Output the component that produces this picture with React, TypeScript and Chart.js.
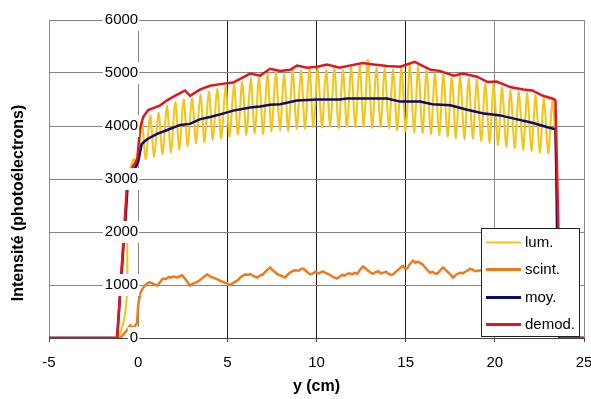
import { useEffect, useRef } from 'react';
import { Chart, registerables } from 'chart.js';

Chart.register(...registerables);

const FONT = "'Liberation Sans', Arial, Helvetica, sans-serif";

const seriesLabels = ['lum.', 'scint.', 'moy.', 'demod.'];
const seriesColors = ['#F3C51A', '#EE7A1E', '#0B0B6E', '#E3161B'];

const xAxisTicks = [-5, 0, 5, 10, 15, 20, 25];
const yAxisTicks = [0, 1000, 2000, 3000, 4000, 5000, 6000];
const xTitle = 'y (cm)';
const yTitle = 'Intensité (photoélectrons)';

const lumX = [-5, -1.12, -0.62, -0.4, -0.22, -0.05, 0.2, 0.43, 0.67, 0.9, 1.14, 1.37, 1.61, 1.84, 2.08, 2.31, 2.55, 2.78, 3.02, 3.25, 3.49, 3.72, 3.96, 4.19, 4.43, 4.66, 4.9, 5.13, 5.37, 5.6, 5.84, 6.07, 6.31, 6.54, 6.78, 7.01, 7.25, 7.48, 7.72, 7.95, 8.19, 8.42, 8.66, 8.89, 9.13, 9.36, 9.6, 9.83, 10.07, 10.3, 10.54, 10.77, 11.01, 11.24, 11.48, 11.71, 11.95, 12.18, 12.42, 12.65, 12.89, 13.12, 13.36, 13.59, 13.83, 14.06, 14.3, 14.53, 14.77, 15.0, 15.24, 15.47, 15.71, 15.94, 16.18, 16.41, 16.65, 16.88, 17.12, 17.35, 17.59, 17.82, 18.06, 18.29, 18.53, 18.76, 19.0, 19.23, 19.47, 19.7, 19.94, 20.17, 20.41, 20.64, 20.88, 21.11, 21.35, 21.58, 21.82, 22.05, 22.29, 22.52, 22.76, 22.99, 23.23, 23.42, 23.66, 25];
const lumY = [0, 0, 2950, 3250, 3380, 3260, 4080, 3380, 4200, 3420, 4250, 3470, 4380, 3500, 4450, 3560, 4500, 3620, 4520, 3680, 4600, 3700, 4650, 3740, 4700, 3760, 4750, 3800, 4780, 3840, 4850, 3830, 4900, 3860, 4930, 3850, 4980, 3900, 5020, 3920, 4980, 3910, 5060, 3940, 5050, 3950, 5080, 3980, 5100, 3970, 5060, 3990, 5090, 3960, 5050, 3990, 5120, 3980, 5140, 4000, 5250, 3970, 5100, 3990, 5080, 3960, 5060, 3920, 5100, 3900, 5150, 3880, 5120, 3870, 5050, 3850, 5000, 3830, 4980, 3800, 4920, 3770, 4950, 3750, 4900, 3760, 4870, 3720, 4800, 3680, 4780, 3640, 4730, 3600, 4680, 3580, 4650, 3550, 4620, 3530, 4580, 3500, 4520, 3480, 4470, 3550, 0, 0];

const scintX = [-5, -1.0, -0.62, -0.45, -0.28, -0.06, 0.0, 0.11, 0.28, 0.5, 0.65, 0.78, 0.92, 1.07, 1.2, 1.3, 1.4, 1.55, 1.7, 1.82, 1.96, 2.1, 2.2, 2.35, 2.47, 2.55, 2.63, 2.75, 2.91, 3.05, 3.2, 3.31, 3.45, 3.6, 3.75, 3.87, 4.0, 4.1, 4.2, 4.35, 4.48, 4.6, 4.75, 4.87, 4.99, 5.08, 5.16, 5.3, 5.42, 5.55, 5.7, 5.8, 5.89, 6.0, 6.15, 6.28, 6.4, 6.55, 6.67, 6.8, 6.9, 7.0, 7.1, 7.25, 7.4, 7.5, 7.65, 7.79, 7.9, 8.05, 8.24, 8.35, 8.5, 8.69, 8.85, 9.0, 9.12, 9.25, 9.4, 9.52, 9.64, 9.8, 9.95, 10.08, 10.2, 10.35, 10.5, 10.65, 10.8, 10.95, 11.15, 11.3, 11.45, 11.6, 11.71, 11.85, 12.0, 12.15, 12.28, 12.45, 12.61, 12.75, 12.9, 13.05, 13.17, 13.3, 13.45, 13.6, 13.73, 13.9, 14.05, 14.18, 14.29, 14.45, 14.6, 14.72, 14.85, 14.95, 15.08, 15.2, 15.3, 15.41, 15.55, 15.7, 15.8, 15.92, 16.05, 16.2, 16.37, 16.5, 16.62, 16.76, 16.9, 17.0, 17.1, 17.22, 17.35, 17.5, 17.66, 17.8, 17.92, 18.05, 18.2, 18.35, 18.5, 18.61, 18.75, 18.9, 19.06, 19.2, 19.5, 20.0, 20.5, 21.0, 21.5, 22.0, 22.5, 23.0, 23.4, 23.62, 25];
const scintY = [0, 0, 150, 240, 190, 280, 620, 840, 950, 1030, 1050, 1030, 1010, 990, 1040, 1090, 1120, 1110, 1150, 1140, 1160, 1150, 1140, 1170, 1180, 1150, 1120, 1060, 990, 1020, 1040, 1060, 1090, 1130, 1170, 1200, 1170, 1150, 1140, 1120, 1100, 1080, 1060, 1040, 1030, 1000, 1010, 1030, 1060, 1080, 1130, 1160, 1180, 1200, 1190, 1210, 1180, 1160, 1140, 1170, 1190, 1200, 1240, 1290, 1330, 1290, 1250, 1210, 1190, 1170, 1140, 1180, 1230, 1270, 1280, 1270, 1300, 1310, 1270, 1230, 1200, 1220, 1250, 1220, 1230, 1260, 1230, 1210, 1180, 1150, 1120, 1160, 1190, 1180, 1210, 1220, 1200, 1230, 1210, 1290, 1350, 1310, 1270, 1230, 1210, 1240, 1260, 1220, 1230, 1250, 1210, 1190, 1200, 1250, 1290, 1330, 1360, 1310, 1310, 1380, 1420, 1460, 1420, 1440, 1410, 1400, 1350, 1290, 1230, 1250, 1220, 1210, 1260, 1300, 1330, 1290, 1250, 1200, 1140, 1190, 1210, 1230, 1220, 1250, 1280, 1310, 1290, 1260, 1270, 1280, 1290, 1250, 1300, 1270, 1310, 1280, 1290, 1260, 1280, 0, 0];

const moyX = [-5, -1.18, -0.56, -0.25, 0.0, 0.2, 0.5, 1.06, 1.6, 2.35, 2.9, 3.48, 4.04, 4.6, 5.33, 6.28, 6.84, 7.4, 7.96, 8.91, 9.47, 10.03, 11.3, 11.7, 12.6, 13.96, 14.7, 15.8, 16.5, 17.5, 18.4, 19.3, 20.3, 21.2, 22.1, 22.9, 23.4, 23.62, 25];
const moyY = [0, 0, 3010, 3140, 3330, 3660, 3750, 3850, 3920, 4020, 4040, 4130, 4170, 4220, 4290, 4350, 4370, 4400, 4410, 4480, 4490, 4500, 4500, 4520, 4520, 4520, 4460, 4460, 4410, 4390, 4310, 4240, 4200, 4130, 4060, 3980, 3940, 0, 0];

const demodX = [-5, -1.18, -0.6, -0.3, -0.05, 0.1, 0.28, 0.56, 0.95, 1.24, 1.6, 1.9, 2.35, 2.63, 2.91, 3.48, 4.04, 4.6, 5.33, 5.72, 6.28, 6.84, 7.4, 7.96, 8.52, 8.91, 9.47, 10.03, 10.6, 11.3, 11.7, 12.6, 13.2, 13.96, 14.7, 15.5, 16.4, 16.9, 17.7, 18.2, 19.0, 19.6, 20.1, 20.9, 21.6, 22.1, 22.7, 23.3, 23.4, 23.7, 25];
const demodY = [0, 0, 3020, 3230, 3380, 3940, 4170, 4300, 4350, 4390, 4480, 4540, 4620, 4670, 4570, 4690, 4760, 4790, 4820, 4890, 4990, 4950, 5080, 5040, 5060, 5140, 5100, 5120, 5160, 5100, 5130, 5190, 5160, 5130, 5120, 5210, 5060, 5040, 4950, 4990, 4930, 4830, 4840, 4730, 4690, 4670, 4570, 4510, 4480, 0, 0];

const zip = (xs: number[], ys: number[]) => xs.map((x, i) => ({ x, y: ys[i] }));

const yTitlePlugin = {
  id: 'yTitlePlugin',
  afterDraw(chart: any) {
    const { ctx, chartArea } = chart;
    ctx.save();
    ctx.translate(19, (chartArea.top + chartArea.bottom) / 2 + 24);
    ctx.rotate(-Math.PI / 2);
    ctx.font = `bold 16px ${FONT}`;
    ctx.fillStyle = '#000';
    ctx.textAlign = 'center';
    ctx.textBaseline = 'middle';
    ctx.fillText(yTitle, 0, 0);
    ctx.restore();
  },
};

const boxLegend = {
  id: 'boxLegend',
  afterDraw(chart: any) {
    const { ctx, chartArea } = chart;
    const w = 99;
    const h = 109;
    const left = chartArea.right - 103;
    const top = chartArea.bottom - 110;
    ctx.save();
    ctx.fillStyle = '#fff';
    ctx.fillRect(left, top, w, h);
    ctx.strokeStyle = '#222';
    ctx.lineWidth = 1;
    ctx.strokeRect(left + 0.5, top + 0.5, w - 1, h - 1);
    chart.data.datasets.forEach((ds: any, i: number) => {
      const y = Math.round(top + 14 + i * 27.3) + 0.5;
      ctx.strokeStyle = ds.borderColor;
      ctx.lineWidth = i === 0 ? 2 : 3;
      ctx.beginPath();
      ctx.moveTo(left + 5, y);
      ctx.lineTo(left + 40, y);
      ctx.stroke();
      ctx.fillStyle = '#000';
      ctx.font = `15px ${FONT}`;
      ctx.textBaseline = 'middle';
      ctx.textAlign = 'left';
      ctx.fillText(ds.label, left + 44, y);
    });
    ctx.restore();
  },
};

export default function App() {
  const ref = useRef<HTMLCanvasElement>(null);

  useEffect(() => {
    if (!ref.current) return;
    Chart.defaults.font.family = FONT;
    Chart.defaults.color = '#000';
    const chart = new Chart(ref.current, {
      type: 'line',
      data: {
        datasets: [
          { label: seriesLabels[0], data: zip(lumX, lumY), borderColor: seriesColors[0], borderWidth: 2.1, pointRadius: 0, tension: 0.3, order: 3 },
          { label: seriesLabels[1], data: zip(scintX, scintY), borderColor: seriesColors[1], borderWidth: 2.5, pointRadius: 0, order: 2 },
          { label: seriesLabels[2], data: zip(moyX, moyY), borderColor: seriesColors[2], borderWidth: 2.5, pointRadius: 0, order: 1 },
          { label: seriesLabels[3], data: zip(demodX, demodY), borderColor: seriesColors[3], borderWidth: 2.5, pointRadius: 0, order: 0 },
        ],
      },
      options: {
        animation: false,
        responsive: false,
        layout: { padding: { left: 49, right: 7, top: 17, bottom: 0 } },
        plugins: { legend: { display: false }, tooltip: { enabled: false } },
        scales: {
          x: {
            type: 'linear',
            min: -5,
            max: 25,
            afterBuildTicks: (s: any) => { s.ticks = xAxisTicks.map((v) => ({ value: v })); },
            afterFit: (s: any) => { s.height = 61; s.paddingLeft = 0; s.paddingRight = 0; },
            grid: {
              color: (c: any) => ([5, 10, 15].includes(c.tick?.value) ? '#1e1e1e' : '#8a8a8a'),
              tickColor: '#444',
              tickLength: 4,
            },
            border: { display: true, color: '#444' },
            ticks: { font: { size: 15 }, padding: 12, maxRotation: 0, callback: (v: any) => String(v) },
            title: { display: true, text: xTitle, font: { size: 16, weight: 'bold' }, padding: { top: 2, bottom: 3 } },
          },
          y: {
            type: 'linear',
            position: { x: 0 } as any,
            min: 0,
            max: 6000,
            afterBuildTicks: (s: any) => { s.ticks = yAxisTicks.map((v) => ({ value: v })); },
            grid: { color: '#858585', drawTicks: false },
            border: { display: true, color: '#858585' },
            ticks: {
              font: { size: 15 },
              padding: 11,
              z: 1,
              showLabelBackdrop: true,
              backdropColor: '#fff',
              backdropPadding: { top: 2, bottom: 2, left: 2, right: 1 },
              callback: (v: any) => String(v),
            },
          },
        },
      },
      plugins: [yTitlePlugin, boxLegend],
    } as any);
    return () => chart.destroy();
  }, []);

  return (
    <div style={{ position: 'absolute', left: 0, top: 0, width: 591, height: 399, background: '#fff' }}>
      <canvas ref={ref} width={591} height={399} />
    </div>
  );
}
